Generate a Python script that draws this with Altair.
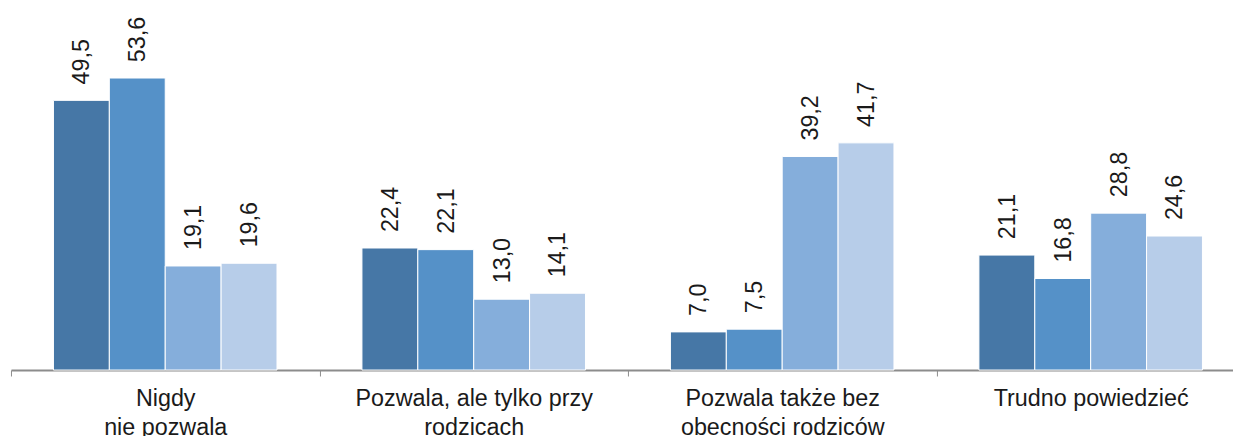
import altair as alt
import pandas as pd

categories = [
    "Nigdy\nnie pozwala",
    "Pozwala, ale tylko przy\nrodzicach",
    "Pozwala także bez\nobecności rodziców",
    "Trudno powiedzieć",
]
series = ["Seria 1", "Seria 2", "Seria 3", "Seria 4"]
values_s1 = [49.5, 22.4, 7.0, 21.1]
values_s2 = [53.6, 22.1, 7.5, 16.8]
values_s3 = [19.1, 13.0, 39.2, 28.8]
values_s4 = [19.6, 14.1, 41.7, 24.6]
colors = ["#4677a6", "#5591c8", "#85aedb", "#b7cde9"]

rows = []
for s, vals in zip(series, [values_s1, values_s2, values_s3, values_s4]):
    for c, v in zip(categories, vals):
        rows.append({"cat": c, "series": s, "value": v, "label": f"{v:.1f}".replace(".", ",")})
df = pd.DataFrame(rows)

FONT = "Liberation Sans, Arial, Helvetica, sans-serif"

base = alt.Chart(df).encode(
    x=alt.X(
        "cat:N",
        sort=categories,
        scale=alt.Scale(paddingInner=0, paddingOuter=0),
        axis=alt.Axis(
            title=None,
            labelExpr="split(datum.label, '\\n')",
            tickBand="extent",
            labelAngle=0,
            labelFontSize=23.5,
            labelFont=FONT,
            labelColor="#1a1a1a",
            labelPadding=11,
            labelLineHeight=28.5,
            labelBaseline="top",
            labelOverlap=False,
            labelLimit=0,
            tickSize=6,
            tickColor="#8c8c8c",
            tickWidth=1,
            domainColor="#8c8c8c",
            domainWidth=2,
            grid=False,
        ),
    ),
    xOffset=alt.XOffset("series:N", sort=series, scale=alt.Scale(paddingOuter=0.76, paddingInner=0)),
    y=alt.Y("value:Q", scale=alt.Scale(domain=[0, 66.2], nice=False, zero=True), axis=None),
)

bars = base.mark_bar(stroke="white", strokeWidth=1).encode(
    color=alt.Color("series:N", sort=series, scale=alt.Scale(domain=series, range=colors), legend=None)
)

text = base.mark_text(
    angle=270, align="left", baseline="middle", dx=16, dy=1, fontSize=23.5, font=FONT, color="#1a1a1a"
).encode(text="label:N")

chart = alt.layer(bars, text).properties(
    width=1242,
    height=363,
    autosize=alt.AutoSizeParams(type="none"),
    padding={"left": 3, "top": 0, "right": -12, "bottom": 65},
).configure_view(stroke=None)

chart.save("out.html", embed_options={"renderer": "svg", "actions": False})
